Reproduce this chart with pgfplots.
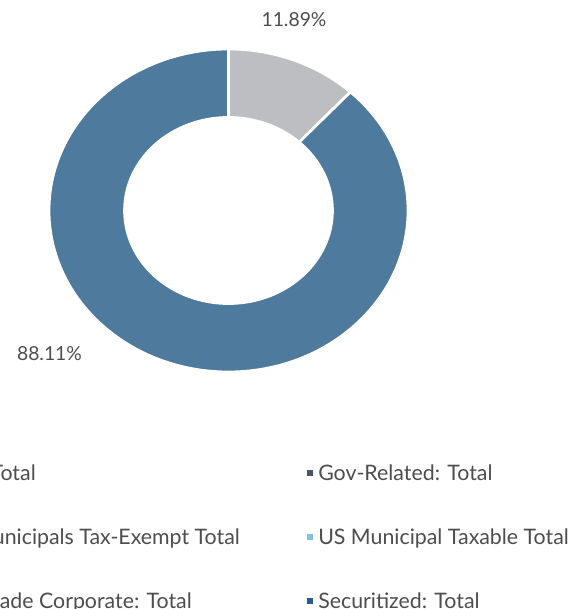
\documentclass[border=0pt]{standalone}
\usepackage{fontspec}
\setmainfont{Lato}
\usepackage{pgfplots}
\usepackage{pgfplotstable}
\pgfplotsset{compat=1.18}
\usetikzlibrary{calc}

\definecolor{ringblue}{RGB}{78,122,158}
\definecolor{ringgray}{RGB}{189,190,194}
\definecolor{txt}{RGB}{77,77,77}
\definecolor{govrel}{RGB}{75,85,98}
\definecolor{munitax}{RGB}{124,196,216}
\definecolor{secur}{RGB}{46,88,146}

% shares of the ring, clockwise from 12 o'clock
\pgfplotstableread{
part share
gray 11.89
blue 88.11
}\ringdata

\begin{document}
\begin{tikzpicture}
\pgfplotstablegetelem{0}{share}\of\ringdata \let\shareA\pgfplotsretval
\pgfplotstablegetelem{1}{share}\of\ringdata \let\shareB\pgfplotsretval
\pgfmathsetmacro\angS{90}
\pgfmathsetmacro\angM{90-3.6*\shareA}
\pgfmathsetmacro\angE{\angM-3.6*\shareB}
% radii (1px = 0.75pt), ring slightly stretched sideways
\def\Rx{134.6pt}\def\Ry{121.1pt}
\def\rx{78.0pt}\def\ry{69.8pt}
\useasboundingbox (0,0) rectangle (438pt,456.75pt);
\clip (0,0) rectangle (438pt,456.75pt);
\begin{axis}[
  at={(0,0)}, anchor=origin,
  x=0.75pt, y=0.75pt,
  xmin=0, xmax=584, ymin=0, ymax=609,
  hide axis, clip=false]
% slices
\fill[ringgray, draw=white, line width=2pt]
  ($(axis cs:228.5,398.5)+({cos(\angS)*\Rx},{sin(\angS)*\Ry})$)
  arc[start angle=\angS, end angle=\angM, x radius=\Rx, y radius=\Ry]
  -- ($(axis cs:228.5,398.5)+({cos(\angM)*\rx},{sin(\angM)*\ry})$)
  arc[start angle=\angM, end angle=\angS, x radius=\rx, y radius=\ry] -- cycle;
\fill[ringblue, draw=white, line width=2pt]
  ($(axis cs:228.5,398.5)+({cos(\angM)*\Rx},{sin(\angM)*\Ry})$)
  arc[start angle=\angM, end angle=\angE, x radius=\Rx, y radius=\Ry]
  -- ($(axis cs:228.5,398.5)+({cos(\angE)*\rx},{sin(\angE)*\ry})$)
  arc[start angle=\angE, end angle=\angM, x radius=\rx, y radius=\ry] -- cycle;
% value labels
\node[inner sep=0pt, text=txt, font=\fontsize{14.5}{17}\selectfont] at (axis cs:294,589) {\shareA\%};
\node[inner sep=0pt, text=txt, font=\fontsize{14.5}{17}\selectfont] at (axis cs:49.5,255) {\shareB\%};
% legend, left column runs off the picture
\begin{scope}[every node/.style={inner sep=0pt, text=txt, font=\fontsize{16}{19}\selectfont}]
\node[anchor=base east] at (axis cs:36,128) {Treasury: Total};
\node[anchor=base east] at (axis cs:240,64) {US Municipals Tax-Exempt Total};
\node[anchor=base east] at (axis cs:192,0) {Investment Grade Corporate: Total};
\fill[govrel] (axis cs:307,133) rectangle (axis cs:313,139);
\fill[munitax] (axis cs:307,69) rectangle (axis cs:313,75);
\fill[secur] (axis cs:307,5) rectangle (axis cs:313,11);
\node[anchor=base west] at (axis cs:318,128) {Gov-Related: Total};
\node[anchor=base west] at (axis cs:318,64) {US Municipal Taxable Total};
\node[anchor=base west] at (axis cs:318,0) {Securitized: Total};
\end{scope}
\end{axis}
\end{tikzpicture}
\end{document}
